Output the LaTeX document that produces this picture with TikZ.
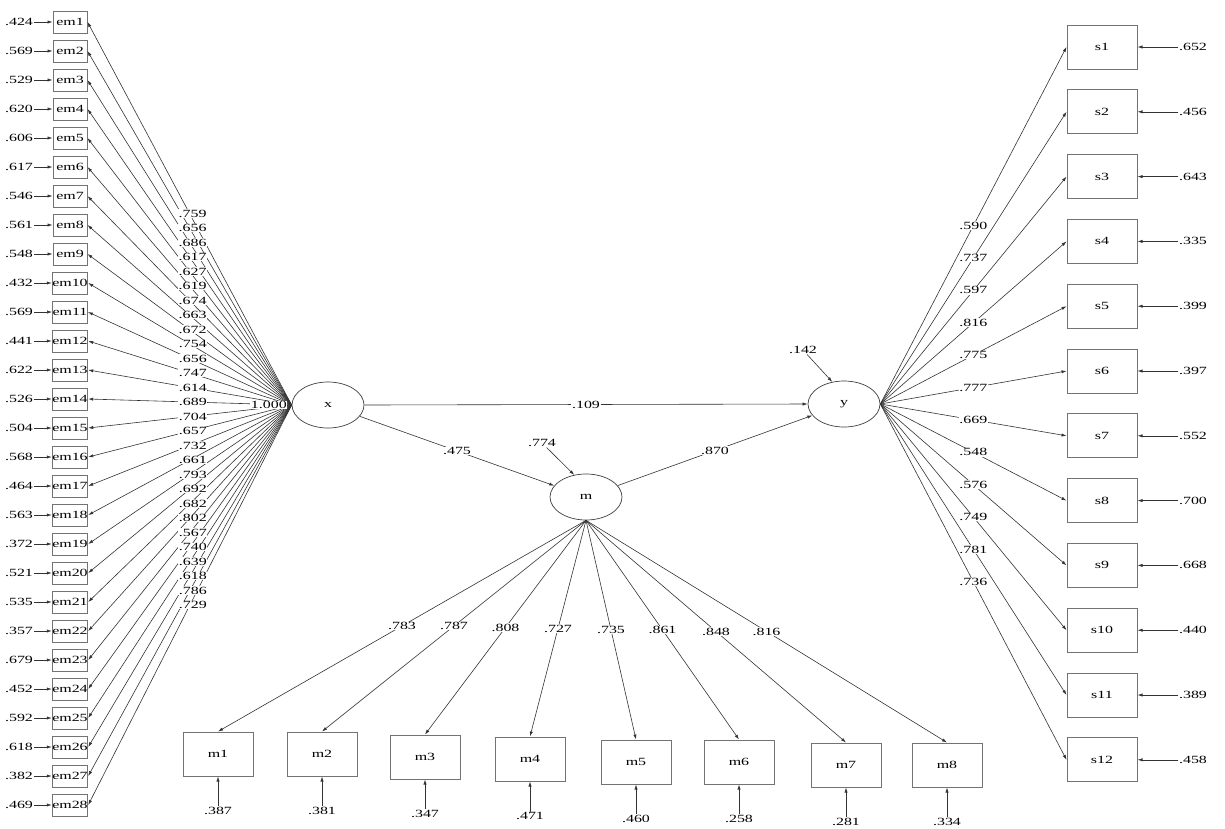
\documentclass[tikz,border=0pt]{standalone}
\usepackage{fontspec}
\setmainfont{Liberation Serif}[FakeStretch=1.45]
\usetikzlibrary{arrows.meta,shapes.geometric}

\begin{document}
\begin{tikzpicture}[x=1pt, y=-1pt,
  every node/.style={font=\fontsize{11}{12}\selectfont},
  latent/.style={ellipse, draw=black!75, line width=0.7pt, minimum width=72pt, minimum height=46pt, inner sep=0pt},
  embox/.style={rectangle, draw=black!55, line width=1pt, minimum width=34pt, minimum height=22pt, inner sep=0pt},
  obsbox/.style={rectangle, draw=black!55, line width=1pt, minimum width=70pt, minimum height=44pt, inner sep=0pt},
  num/.style={inner sep=0.6pt},
  coef/.style={fill=white, inner sep=0.6pt},
  link/.style={draw=black!80, line width=0.6pt, -{Latex[length=5pt,width=3.2pt]}}
]
  \fill[white] (0,0) rectangle (1225,828);
  \useasboundingbox (0,0) rectangle (1225,828);

  % Latent variables
  \node[latent] (x) at (328,405) {x};
  \node[latent] (m) at (586,497) {m};
  \node[latent] (y) at (844,404) {y};

  % Structural paths
  \draw[link] (x.east) -- node[coef] {.109} (y.west);
  \draw[link] (x) -- node[coef] {.475} (m);
  \draw[link] (m) -- node[coef] {.870} (y);

  % Disturbances
  \node[num] (merr) at (542,443) {.774};
  \draw[link] (merr) -- (m.118);
  \node[num] (yerr) at (803,350) {.142};
  \draw[link] (yerr) -- (y.118);

  % Indicators of x (em1 -- em28)
  \foreach \i/\err in {1/.424, 2/.569, 3/.529, 4/.620, 5/.606, 6/.617, 7/.546,
                       8/.561, 9/.548, 10/.432, 11/.569, 12/.441, 13/.622, 14/.526,
                       15/.504, 16/.568, 17/.464, 18/.563, 19/.372, 20/.521, 21/.535,
                       22/.357, 23/.679, 24/.452, 25/.592, 26/.618, 27/.382, 28/.469} {
    \pgfmathsetmacro{\yy}{22+29*(\i-1)}
    \node[embox] (em\i) at (70,\yy) {em\i};
    \node[num] (eme\i) at (19,\yy) {\err};
    \draw[link] (eme\i) -- (em\i);
    \draw[link] (x.west) -- coordinate[pos=.5] (lem\i) (em\i.east);
  }
  \foreach \i/\lo in {1/.759, 2/.656, 3/.686, 4/.617, 5/.627, 6/.619, 7/.674,
                      8/.663, 9/.672, 10/.754, 11/.656, 12/.747, 13/.614, 14/.689,
                      15/.704, 16/.657, 17/.732, 18/.661, 19/.793, 20/.692, 21/.682,
                      22/.802, 23/.567, 24/.740, 25/.639, 26/.618, 27/.786, 28/.729} {
    \node[coef] at ([xshift=3pt]lem\i) {\lo};
  }
  \node[coef, anchor=east] (xvar) at ([xshift=-4pt]x.west) {1.000};

  % Indicators of y (s1 -- s12)
  \foreach \i/\err in {1/.652, 2/.456, 3/.643, 4/.335, 5/.399, 6/.397,
                       7/.552, 8/.700, 9/.668, 10/.440, 11/.389, 12/.458} {
    \pgfmathsetmacro{\yy}{47+64.8*(\i-1)}
    \node[obsbox] (s\i) at (1102,\yy) {s\i};
    \node[num] (se\i) at (1193,\yy) {\err};
    \draw[link] (se\i) -- (s\i);
    \draw[link] (y.east) -- coordinate[pos=.5] (ls\i) (s\i.west);
  }
  \foreach \i/\lo in {1/.590, 2/.737, 3/.597, 4/.816, 5/.775, 6/.777,
                      7/.669, 8/.548, 9/.576, 10/.749, 11/.781, 12/.736} {
    \node[coef] at (ls\i) {\lo};
  }

  % Indicators of m (m1 -- m8)
  \foreach \i/\bx/\by/\err in {1/218/754/.387, 2/322/754/.381, 3/425/757/.347, 4/530/759/.471,
                               5/636/762/.460, 6/739/762/.258, 7/846/765/.281, 8/947/765/.334} {
    \node[obsbox] (m\i) at (\bx,\by) {m\i};
    \node[num] (me\i) at (\bx,\by+57) {\err};
    \draw[link] (me\i) -- (m\i);
    \draw[link] (m.south) -- coordinate[pos=.5] (lm\i) (m\i.north);
  }
  \foreach \i/\lo in {1/.783, 2/.787, 3/.808, 4/.727, 5/.735, 6/.861, 7/.848, 8/.816} {
    \node[coef] at (lm\i) {\lo};
  }

\end{tikzpicture}
\end{document}
